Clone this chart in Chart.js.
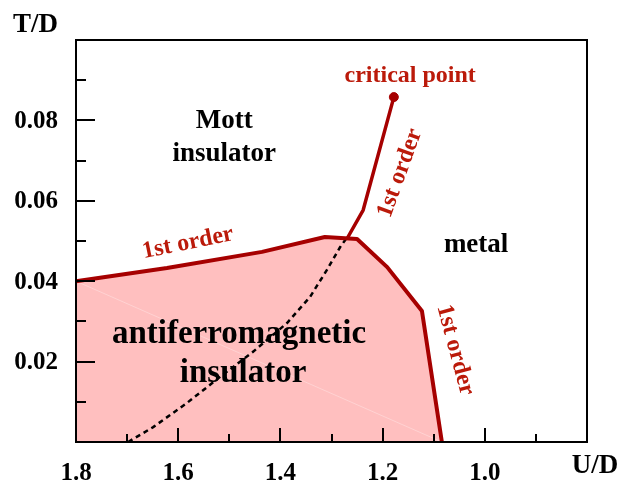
<!DOCTYPE html>
<html>
<head>
<meta charset="utf-8">
<script src="https://cdn.jsdelivr.net/npm/chart.js@4/dist/chart.umd.min.js"></script>
<style>
html,body{margin:0;padding:0;background:#fff;}
#wrap{width:621px;height:485px;}
</style>
</head>
<body>
<div id="wrap"><canvas id="c" width="621" height="485"></canvas></div>
<script>
// ---- data (U/D, T/D) ----
const afBoundaryU = [1.80, 1.622, 1.436, 1.313, 1.250, 1.191, 1.123, 1.084];
const afBoundaryT = [0.0400, 0.0433, 0.0473, 0.0510, 0.0505, 0.0435, 0.0326, 0.0000];
const mottLineU = [1.270, 1.238, 1.178];
const mottLineT = [0.0505, 0.0577, 0.0858];
const criticalPointU = [1.178];
const criticalPointT = [0.0858];
const dashedU = [1.698, 1.649, 1.583, 1.518, 1.454, 1.387, 1.342, 1.309, 1.283, 1.270];
const dashedT = [0.0000, 0.0037, 0.0097, 0.0162, 0.0224, 0.0296, 0.0361, 0.0428, 0.0485, 0.0508];
const artifactU = [1.80, 1.084];
const artifactT = [0.0400, 0.0000];

const xTickMajor = [1.8, 1.6, 1.4, 1.2, 1.0];
const xTickLabels = ['1.8', '1.6', '1.4', '1.2', '1.0'];
const xTickMinor = [1.7, 1.5, 1.3, 1.1, 0.9];
const yTickMajor = [0.02, 0.04, 0.06, 0.08];
const yTickLabels = ['0.02', '0.04', '0.06', '0.08'];
const yTickMinor = [0.01, 0.03, 0.05, 0.07, 0.09];

const xTitle = 'U/D';
const yTitle = 'T/D';
const regionTexts = ['Mott', 'insulator', 'metal', 'antiferromagnetic', 'insulator'];
const regionTextU = [1.510, 1.510, 1.017, 1.481, 1.473];
const regionTextT = [0.0781, 0.0699, 0.0473, 0.0246, 0.0149];
const regionTextSize = [27, 27, 27, 33, 33];
const orderTexts = ['1st order', '1st order', '1st order'];
const orderTextU = [1.581, 1.166, 1.058];
const orderTextT = [0.0495, 0.0669, 0.0229];
const orderTextAngle = [-11.5, -70, 75];
const cpText = 'critical point';
const cpTextU = 1.146;
const cpTextT = 0.0896;

const pts = (xs, ys) => xs.map((x, i) => ({x: x, y: ys[i]}));

const RED = '#a60000';
const LABEL_RED = '#bb1a0a';
const PINK = '#ffbfbf';
const SERIF = '"Liberation Serif", "DejaVu Serif", serif';

const overlay = {
  id: 'overlay',
  afterDraw(chart) {
    const ctx = chart.ctx;
    const xs = chart.scales.x, ys = chart.scales.y;
    const a = chart.chartArea;
    ctx.save();
    // frame
    ctx.strokeStyle = '#000';
    ctx.lineWidth = 2;
    ctx.strokeRect(a.left, a.top, a.right - a.left, a.bottom - a.top);
    // ticks
    ctx.beginPath();
    yTickMajor.forEach(v => { const p = Math.round(ys.getPixelForValue(v)); ctx.moveTo(a.left, p); ctx.lineTo(a.left + 19, p); });
    yTickMinor.forEach(v => { const p = Math.round(ys.getPixelForValue(v)); ctx.moveTo(a.left, p); ctx.lineTo(a.left + 10, p); });
    xTickMajor.forEach(v => { const p = Math.round(xs.getPixelForValue(v)); ctx.moveTo(p, a.bottom); ctx.lineTo(p, a.bottom - 14); });
    xTickMinor.forEach(v => { const p = Math.round(xs.getPixelForValue(v)); ctx.moveTo(p, a.bottom); ctx.lineTo(p, a.bottom - 8); });
    ctx.stroke();
    // tick labels
    ctx.fillStyle = '#000';
    ctx.font = 'bold 25px ' + SERIF;
    ctx.textAlign = 'right';
    ctx.textBaseline = 'middle';
    yTickMajor.forEach((v, i) => ctx.fillText(yTickLabels[i], a.left - 18, ys.getPixelForValue(v) + 1));
    ctx.textAlign = 'center';
    ctx.textBaseline = 'alphabetic';
    xTickMajor.forEach((v, i) => ctx.fillText(xTickLabels[i], xs.getPixelForValue(v), a.bottom + 38));
    // axis titles
    ctx.font = 'bold 27px ' + SERIF;
    ctx.textAlign = 'left';
    ctx.fillText(yTitle, 13, 32);
    ctx.textAlign = 'center';
    ctx.fillText(xTitle, 595, a.bottom + 31);
    // region texts
    ctx.fillStyle = '#000';
    regionTexts.forEach((t, i) => {
      ctx.font = 'bold ' + regionTextSize[i] + 'px ' + SERIF;
      ctx.fillText(t, xs.getPixelForValue(regionTextU[i]), ys.getPixelForValue(regionTextT[i]));
    });
    // critical point label
    ctx.fillStyle = LABEL_RED;
    ctx.font = 'bold 24px ' + SERIF;
    ctx.fillText(cpText, xs.getPixelForValue(cpTextU), ys.getPixelForValue(cpTextT));
    // 1st order labels
    ctx.font = 'bold 24px ' + SERIF;
    ctx.textBaseline = 'middle';
    orderTexts.forEach((t, i) => {
      ctx.save();
      ctx.translate(xs.getPixelForValue(orderTextU[i]), ys.getPixelForValue(orderTextT[i]));
      ctx.rotate(orderTextAngle[i] * Math.PI / 180);
      ctx.fillText(t, 0, 0);
      ctx.restore();
    });
    ctx.restore();
  }
};

new Chart(document.getElementById('c'), {
  type: 'scatter',
  data: {
    datasets: [
      { data: pts(afBoundaryU, afBoundaryT), showLine: true, borderColor: RED, borderWidth: 4, pointRadius: 0, fill: false, order: 0, borderJoinStyle: 'round', clip: 4 },
      { data: pts(mottLineU, mottLineT), showLine: true, borderColor: RED, borderWidth: 3.5, pointRadius: 0, fill: false, order: 1, borderJoinStyle: 'round' },
      { data: pts(criticalPointU, criticalPointT), pointRadius: 4.5, pointBackgroundColor: RED, pointBorderColor: RED, order: 0 },
      { data: pts(dashedU, dashedT), showLine: true, borderColor: '#000', borderWidth: 2.5, borderDash: [5, 4], pointRadius: 0, fill: false, order: 2 },
      { data: pts(artifactU, artifactT), showLine: true, borderColor: 'rgba(255,255,255,0.3)', borderWidth: 1, pointRadius: 0, fill: false, order: 3 },
      { data: pts(afBoundaryU, afBoundaryT), showLine: true, borderWidth: 0, borderColor: 'rgba(0,0,0,0)', backgroundColor: PINK, pointRadius: 0, fill: 'origin', order: 4 }
    ]
  },
  options: {
    responsive: false,
    animation: false,
    devicePixelRatio: 1,
    layout: { padding: { left: 76, right: 34, top: 40, bottom: 43 } },
    plugins: { legend: { display: false }, tooltip: { enabled: false } },
    scales: {
      x: { type: 'linear', reverse: true, min: 0.8, max: 1.8, display: false },
      y: { type: 'linear', min: 0, max: 0.1, display: false }
    }
  },
  plugins: [overlay]
});
</script>
</body>
</html>
